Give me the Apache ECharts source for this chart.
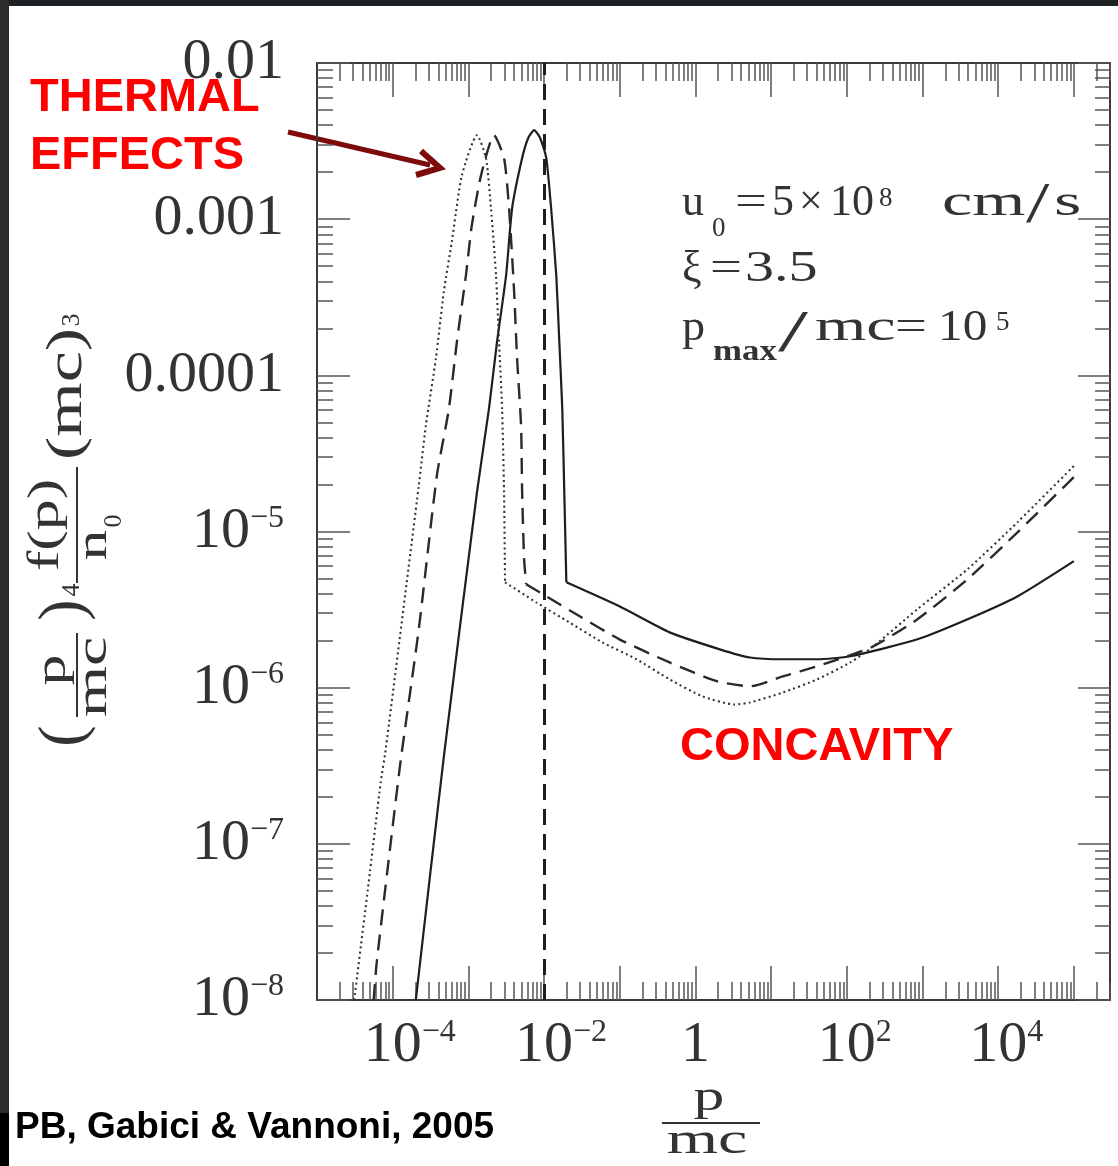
<!DOCTYPE html>
<html><head><meta charset="utf-8">
<script src="https://cdn.jsdelivr.net/npm/echarts@6/dist/echarts.min.js"></script>
<style>html,body{margin:0;padding:0;background:#fff}#c{width:1118px;height:1166px}</style>
</head><body><div id="c"></div>
<script>
// ---- data: x = p/mc , y = (p/mc)^4 f(p)/n0 (mc)^3 ----
// each curve = thermal bump (up to the injection kink) + non-thermal tail
const solidThermP = [2.02e-4, 4.74e-4, 1.30e-3, 1.87e-3, 2.39e-3, 3.15e-3, 3.78e-3, 5.13e-3, 6.16e-3, 7.40e-3, 8.89e-3, 1.07e-2, 1.24e-2, 1.45e-2, 1.59e-2, 1.74e-2, 1.85e-2, 1.97e-2];
const solidThermF = [1.0e-8, 3.62e-7, 1.79e-5, 6.10e-5, 1.64e-4, 4.36e-4, 1.17e-3, 2.46e-3, 3.30e-3, 3.72e-3, 3.30e-3, 2.46e-3, 1.17e-3, 4.36e-4, 1.64e-4, 6.10e-5, 1.79e-5, 4.73e-6];
const solidTailP = [1.97e-2, 9.9e-2, 0.456, 2.10, 5.24, 14.3, 40.5, 111, 857, 3940, 1.81e4, 1e5];
const solidTailF = [4.73e-6, 3.32e-6, 2.26e-6, 1.76e-6, 1.56e-6, 1.52e-6, 1.52e-6, 1.59e-6, 2.04e-6, 2.74e-6, 3.85e-6, 6.46e-6];

const dashedThermP = [5.60e-5, 6.14e-5, 8.85e-5, 1.28e-4, 2.21e-4, 3.83e-4, 5.53e-4, 7.05e-4, 9.28e-4, 1.11e-3, 1.47e-3, 2.18e-3, 2.96e-3, 3.45e-3, 4.02e-3, 4.40e-3, 4.97e-3, 5.13e-3, 5.45e-3, 5.79e-3];
const dashedThermF = [1.0e-8, 1.72e-8, 7.89e-8, 3.46e-7, 2.36e-6, 2.27e-5, 6.10e-5, 1.64e-4, 4.36e-4, 9.12e-4, 1.91e-3, 3.45e-3, 2.46e-3, 1.17e-3, 3.44e-4, 1.28e-4, 4.75e-5, 1.79e-5, 6.65e-6, 4.60e-6];
const dashedTailP = [5.79e-3, 1.07e-2, 2.67e-2, 9.9e-2, 0.456, 1.91, 5.24, 14.3, 40.5, 101, 224, 857, 3940, 1.81e4, 1e5];
const dashedTailF = [4.60e-6, 3.85e-6, 2.95e-6, 2.04e-6, 1.45e-6, 1.10e-6, 1.02e-6, 1.18e-6, 1.37e-6, 1.59e-6, 1.84e-6, 2.74e-6, 4.95e-6, 9.91e-6, 2.23e-5];

const dottedThermP = [3.1e-5, 4.81e-5, 6.93e-5, 8.08e-5, 2.21e-4, 2.74e-4, 3.72e-4, 4.74e-4, 6.05e-4, 8.21e-4, 1.30e-3, 1.71e-3, 1.99e-3, 2.32e-3, 2.54e-3, 2.79e-3, 2.96e-3, 3.05e-3];
const dottedThermF = [1.0e-8, 5.62e-8, 2.46e-7, 4.01e-7, 1.96e-5, 4.75e-5, 1.28e-4, 3.44e-4, 7.20e-4, 1.91e-3, 3.45e-3, 2.46e-3, 1.17e-3, 4.36e-4, 1.64e-4, 6.10e-5, 1.79e-5, 4.73e-6];
const dottedTailP = [3.05e-3, 7.86e-3, 2.15e-2, 5.90e-2, 0.1665, 0.456, 1.248, 3.31, 5.24, 14.3, 40.5, 111, 224, 857, 3940, 1.81e4, 1e5];
const dottedTailF = [4.73e-6, 3.52e-6, 2.62e-6, 1.95e-6, 1.52e-6, 1.13e-6, 8.78e-7, 7.80e-7, 8.04e-7, 9.31e-7, 1.13e-6, 1.45e-6, 1.84e-6, 3.18e-6, 5.74e-6, 1.15e-5, 2.63e-5];

const injectionP = 0.01;          // vertical dashed line
const xMin = 1e-5, xMax = 3e5;
const yMin = 1e-8, yMax = 1e-2;
const xLabelValues = [1e-4, 1e-2, 1, 1e2, 1e4];
const yLabelValues = [1e-2, 1e-3, 1e-4, 1e-5, 1e-6, 1e-7, 1e-8];
const yPlainLabels = {'-2': '0.01', '-3': '0.001', '-4': '0.0001'};

// ---- ticks ----
function decades(a, b) { const r = []; for (let e = a; e <= b; e++) r.push(Math.pow(10, e)); return r; }
function minors(a, b, hi) { const r = []; for (let e = a; e <= b; e++) for (let m = 2; m <= 9; m++) { const v = m * Math.pow(10, e); if (v <= hi) r.push(v); } return r; }
const xMajor = decades(-4, 5), xMinor = minors(-5, 5, xMax);
const yMajor = decades(-8, -2), yMinor = minors(-8, -3, yMax);

const SERIF = '"Liberation Serif","Times New Roman",serif';
const SANS = '"Liberation Sans",Arial,sans-serif';
const FRAME = '#3a3a3a', TICK = '#555', LAB = '#333';

const rich = {
  b: { fontFamily: SERIF, fontSize: 58, lineHeight: 58, color: LAB },
  s: { fontFamily: SERIF, fontSize: 32, lineHeight: 40, verticalAlign: 'top', color: LAB },
  p2: { width: 34, lineHeight: 58 },
  p1: { width: 16, lineHeight: 58 }
};
function expOf(v) { return Math.round(Math.log10(v)); }
function xFmt(v) {
  const e = expOf(v);
  if (e === 0) return '{b|1}';
  return (e < 0 ? '{p2|}' : '{p1|}') + '{b|10}{s|' + (e < 0 ? '\u2212' + (-e) : e) + '}';
}
function yFmt(v) { const e = expOf(v); if (yPlainLabels[e]) return '{b|' + yPlainLabels[e] + '}'; return '{b|10}{s|\u2212' + (-e) + '}'; }

function xAx(pos, ticks, len, label, line) {
  return {
    type: 'log', logBase: 10, min: xMin, max: xMax, position: pos, gridIndex: 0,
    axisLine: { show: line, onZero: false, lineStyle: { color: FRAME, width: 2 } },
    axisTick: { show: true, inside: true, length: len, customValues: ticks, lineStyle: { color: TICK, width: 1.5 } },
    minorTick: { show: false }, splitLine: { show: false },
    axisLabel: label ? { show: true, customValues: xLabelValues, formatter: xFmt, rich: rich, margin: 17 } : { show: false }
  };
}
function yAx(pos, ticks, len, label, line) {
  return {
    type: 'log', logBase: 10, min: yMin, max: yMax, position: pos, gridIndex: 0,
    axisLine: { show: line, onZero: false, lineStyle: { color: FRAME, width: 2 } },
    axisTick: { show: true, inside: true, length: len, customValues: ticks, lineStyle: { color: TICK, width: 1.5 } },
    minorTick: { show: false }, splitLine: { show: false },
    axisLabel: label ? { show: true, customValues: yLabelValues, formatter: yFmt, rich: rich, margin: 33 } : { show: false }
  };
}

function pairs(P, F) { return P.map((p, i) => [p, F[i]]); }

function txt(text, x, y, size, opt) {
  opt = opt || {};
  return {
    type: 'text', x: x, y: y, rotation: opt.rot || 0, scaleX: opt.sx || 1, scaleY: 1, silent: true,
    style: {
      text: text, fontFamily: opt.font || SERIF, fontSize: size, fontWeight: opt.weight || 'normal',
      fill: opt.color || '#333', align: opt.align || 'left', textAlign: opt.align || 'left',
      verticalAlign: 'middle', textVerticalAlign: 'middle'
    }
  };
}
const R = Math.PI / 2;

const solidStyle = { color: '#1e1e1e', width: 2.2, type: 'solid' };
const dashedStyle = { color: '#2a2a2a', width: 2.4, type: [16, 9] };
const dottedStyle = { color: '#333', width: 2.1, type: [2, 3.2] };
function curve(name, P, F, style, sm) {
  return { type: 'line', name: name, data: pairs(P, F), xAxisIndex: 0, yAxisIndex: 0, symbol: 'none', clip: true,
    smooth: sm, lineStyle: style, z: 3 };
}

const series = [
  curve('solid thermal', solidThermP, solidThermF, solidStyle, 0.2),
  curve('solid tail', solidTailP, solidTailF, solidStyle, 0.2),
  curve('dashed thermal', dashedThermP, dashedThermF, dashedStyle, 0.2),
  curve('dashed tail', dashedTailP, dashedTailF, dashedStyle, 0.2),
  curve('dotted thermal', dottedThermP, dottedThermF, dottedStyle, 0.2),
  curve('dotted tail', dottedTailP, dottedTailF, dottedStyle, 0.2)
];
series[0].markLine = { silent: true, symbol: ['none', 'none'], label: { show: false },
  lineStyle: { color: '#1e1e1e', width: 3, type: [16, 9] }, data: [{ xAxis: injectionP }] };

const chart = echarts.init(document.getElementById('c'), null, { renderer: 'canvas' });
chart.setOption({
  animation: false,
  backgroundColor: '#ffffff',
  grid: { left: 317, top: 63, right: 8, bottom: 166, containLabel: false },
  xAxis: [xAx('bottom', xMajor, 34, true, true), xAx('bottom', xMinor, 18, false, false),
          xAx('top', xMajor, 34, false, true), xAx('top', xMinor, 18, false, false)],
  yAxis: [yAx('left', yMajor, 33, true, true), yAx('left', yMinor, 16, false, false),
          yAx('right', yMajor, 32, false, true), yAx('right', yMinor, 15, false, false)],
  series: series,
  graphic: { elements: [
    { type: 'rect', shape: { x: 0, y: 0, width: 1118, height: 6 }, style: { fill: '#1f2224' }, silent: true },
    { type: 'rect', shape: { x: 0, y: 0, width: 9, height: 1166 }, style: { fill: '#2c2c2c' }, silent: true },
    { type: 'rect', shape: { x: 0, y: 1113, width: 9, height: 53 }, style: { fill: '#000' }, silent: true },

    txt('THERMAL', 30, 98, 47, { font: SANS, weight: 'bold', color: '#ff0000' }),
    txt('EFFECTS', 30, 156, 47, { font: SANS, weight: 'bold', color: '#ff0000' }),
    txt('CONCAVITY', 680, 747, 47, { font: SANS, weight: 'bold', color: '#ff0000' }),
    txt('PB, Gabici & Vannoni, 2005', 15, 1128, 37, { font: SANS, weight: 'bold', color: '#000' }),

    { type: 'line', shape: { x1: 288, y1: 132, x2: 430, y2: 165 }, style: { stroke: '#7d0b0b', lineWidth: 5 }, silent: true },
    { type: 'polyline', shape: { points: [[421, 151], [440, 168], [416, 175]] }, style: { stroke: '#7d0b0b', lineWidth: 6, fill: null, lineJoin: 'miter' }, silent: true },

    // parameter block
    txt('u', 682, 203, 44), txt('0', 712, 229, 27), txt('=', 735, 203, 42, { sx: 1.35 }), txt('5', 772, 203, 44),
    txt('\u00d7', 799, 203, 42), txt('10', 830, 203, 44), txt('8', 879, 199, 27),
    txt('cm', 942, 203, 44, { sx: 1.55 }), txt('/', 1026, 207, 56, { sx: 1.5 }), txt('s', 1054, 203, 44, { sx: 1.6 }),
    txt('\u03be', 682, 269, 44), txt('=', 710, 269, 42, { sx: 1.35 }), txt('3.5', 745, 269, 44, { sx: 1.32 }),
    txt('p', 682, 328, 44, { sx: 1.05 }), txt('max', 713, 352, 30, { weight: 'bold', sx: 1.16 }),
    txt('/', 778, 335, 60, { sx: 1.8 }), txt('mc', 815, 328, 44, { sx: 1.5 }), txt('=', 895, 328, 42, { sx: 1.35 }),
    txt('10', 938, 328, 44, { sx: 1.12 }), txt('5', 996, 323, 27),

    // x title
    txt('p', 709, 1098, 44, { align: 'center', sx: 1.4 }),
    { type: 'line', shape: { x1: 662, y1: 1123, x2: 760, y2: 1123 }, style: { stroke: '#333', lineWidth: 2 }, silent: true },
    txt('mc', 707, 1141, 44, { align: 'center', sx: 1.5 }),

    // y title (rotated)
    txt('(', 65, 736, 64, { align: 'center', rot: R }),
    txt('p', 53, 670, 44, { align: 'center', rot: R, sx: 1.4 }),
    { type: 'line', shape: { x1: 77, y1: 633, x2: 77, y2: 717 }, style: { stroke: '#333', lineWidth: 2 }, silent: true },
    txt('mc', 94, 677, 44, { align: 'center', rot: R, sx: 1.5 }),
    txt(')', 65, 610, 64, { align: 'center', rot: R }),
    txt('4', 72, 590, 26, { align: 'center', rot: R }),
    txt('f(p)', 46, 525, 44, { align: 'center', rot: R, sx: 1.4 }),
    { type: 'line', shape: { x1: 77, y1: 467, x2: 77, y2: 583 }, style: { stroke: '#333', lineWidth: 2 }, silent: true },
    txt('n', 94, 545, 44, { align: 'center', rot: R, sx: 1.4 }),
    txt('0', 114, 521, 26, { align: 'center', rot: R }),
    txt('(mc)', 68, 394, 50, { align: 'center', rot: R, sx: 1.4 }),
    txt('3', 72, 320, 26, { align: 'center', rot: R })
  ] }
});
</script>
</body></html>
